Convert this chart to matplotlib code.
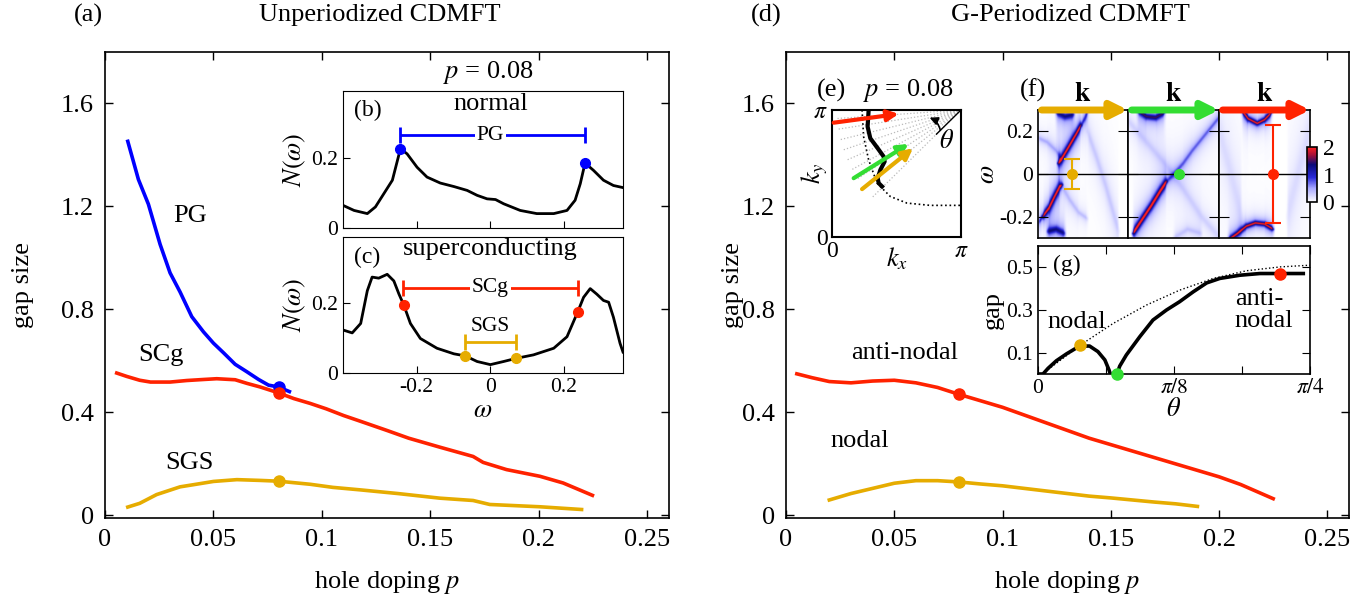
import numpy as np
import matplotlib
matplotlib.use("Agg")
import matplotlib.pyplot as plt
from matplotlib.colors import LinearSegmentedColormap

plt.rcParams['font.family'] = ['Liberation Serif', 'DejaVu Serif']
plt.rcParams['mathtext.fontset'] = 'stix'

BLUE = '#0000ff'
RED = '#ff2200'
GOLD = '#e6ac00'
GREEN = '#33dd33'

# ---- (a) unperiodized gaps vs doping
p_pg = [0.0105, 0.0154, 0.020, 0.0254, 0.030, 0.0346, 0.040, 0.0454, 0.050, 0.0546,
        0.060, 0.0654, 0.0708, 0.0754, 0.080, 0.085]
gap_pg = [1.453, 1.305, 1.209, 1.053, 0.942, 0.868, 0.772, 0.713, 0.669, 0.632,
          0.587, 0.558, 0.528, 0.506, 0.499, 0.481]
p_scg = [0.0054, 0.010, 0.016, 0.021, 0.030, 0.0377, 0.0454, 0.0515, 0.060, 0.0654,
         0.0715, 0.080, 0.087, 0.0946, 0.102, 0.110, 0.118, 0.13, 0.14, 0.1544,
         0.1697, 0.1743, 0.1851, 0.2005, 0.2112, 0.2247]
gap_scg = [0.553, 0.540, 0.525, 0.518, 0.518, 0.524, 0.528, 0.531, 0.527, 0.513,
           0.499, 0.476, 0.454, 0.435, 0.414, 0.388, 0.365, 0.33, 0.30, 0.265,
           0.229, 0.206, 0.178, 0.152, 0.126, 0.078]
p_sgs = [0.0105, 0.016, 0.0238, 0.0346, 0.042, 0.050, 0.0608, 0.0715, 0.080, 0.0946,
         0.105, 0.118, 0.135, 0.1544, 0.1697, 0.1774, 0.2005, 0.2197]
gap_sgs = [0.0325, 0.047, 0.081, 0.111, 0.121, 0.132, 0.139, 0.136, 0.133, 0.121,
           0.109, 0.099, 0.085, 0.067, 0.058, 0.0425, 0.0336, 0.023]

# ---- (d) G-periodized gaps vs doping
p_an = [0.005, 0.012, 0.02, 0.03, 0.04, 0.05, 0.06, 0.07, 0.08, 0.09, 0.1, 0.11,
        0.12, 0.13, 0.14, 0.15, 0.16, 0.17, 0.18, 0.19, 0.2, 0.21, 0.225]
gap_an = [0.55, 0.535, 0.52, 0.515, 0.522, 0.525, 0.515, 0.497, 0.47, 0.445, 0.42,
          0.39, 0.36, 0.33, 0.30, 0.275, 0.25, 0.225, 0.20, 0.175, 0.15, 0.12, 0.065]
p_nod = [0.02, 0.03, 0.04, 0.05, 0.06, 0.07, 0.08, 0.09, 0.1, 0.11, 0.12, 0.13,
         0.14, 0.15, 0.16, 0.17, 0.18, 0.19]
gap_nod = [0.06, 0.085, 0.105, 0.125, 0.135, 0.135, 0.13, 0.122, 0.115, 0.105,
           0.095, 0.085, 0.075, 0.068, 0.06, 0.052, 0.045, 0.035]

p_sel = 0.08
xticks_main = [0, 0.05, 0.1, 0.15, 0.2, 0.25]
xlabels_main = ['0', '0.05', '0.1', '0.15', '0.2', '0.25']
yticks_main = [0, 0.4, 0.8, 1.2, 1.6]
ylabels_main = ['0', '0.4', '0.8', '1.2', '1.6']

# ---- (b) normal DOS
w_n = [-0.399, -0.370, -0.334, -0.312, -0.289, -0.266, -0.244, -0.226, -0.199, -0.172,
       -0.136, -0.099, -0.063, -0.036, -0.009, 0.014, 0.036, 0.081, 0.126, 0.172,
       0.208, 0.230, 0.244, 0.257, 0.280, 0.307, 0.334, 0.360]
dos_n = [0.064, 0.050, 0.041, 0.060, 0.098, 0.136, 0.226, 0.211, 0.173, 0.145,
         0.128, 0.118, 0.107, 0.093, 0.083, 0.081, 0.069, 0.050, 0.041, 0.041,
         0.050, 0.079, 0.126, 0.185, 0.164, 0.136, 0.121, 0.115]
pg_peaks = [-0.244, 0.257]
pg_peak_dos = [0.226, 0.185]

# ---- (c) superconducting DOS
w_s = [-0.399, -0.375, -0.352, -0.334, -0.321, -0.303, -0.280, -0.262, -0.248, -0.235,
       -0.217, -0.190, -0.145, -0.099, -0.068, -0.036, 0.0, 0.036, 0.070, 0.117,
       0.172, 0.208, 0.237, 0.253, 0.271, 0.289, 0.307, 0.321, 0.334, 0.352, 0.360]
dos_s = [0.123, 0.115, 0.142, 0.236, 0.275, 0.272, 0.283, 0.264, 0.226, 0.195,
         0.142, 0.099, 0.071, 0.055, 0.049, 0.033, 0.024, 0.033, 0.042, 0.052,
         0.071, 0.104, 0.175, 0.217, 0.242, 0.226, 0.208, 0.203, 0.160, 0.085, 0.06]
scg_pts = [-0.235, 0.237]
scg_dos = [0.195, 0.175]
sgs_pts = [-0.068, 0.070]
sgs_dos = [0.049, 0.042]

# ---- (e) Brillouin zone quadrant (units of pi)
fs_kx = [0.233, 0.245, 0.284, 0.349, 0.452, 0.581, 0.762, 1.0]
fs_ky = [1.0, 0.79, 0.607, 0.424, 0.319, 0.267, 0.249, 0.249]
gfs_kx = [0.284, 0.276, 0.297, 0.354, 0.40, 0.408, 0.375, 0.354, 0.362, 0.388]
gfs_ky = [1.0, 0.869, 0.777, 0.699, 0.634, 0.594, 0.529, 0.463, 0.424, 0.398]
ray_angles = [4, 9, 14, 19, 24, 29, 34, 39, 45]
ray_len = 0.97
cut_colors = [RED, GREEN, GOLD]
cut_start = [(0.013, 0.90), (0.168, 0.463), (0.233, 0.377)]
cut_end = [(0.517, 0.969), (0.594, 0.733), (0.628, 0.699)]

# ---- (f) spectral function cuts: band positions (k along cut, omega, weight, width)
bands_nodal = [
    ([0.22, 0.26, 0.33, 0.42, 0.48], [0.05, 0.07, 0.12, 0.185, 0.23], 2.0, 0.008),
    ([0.48, 0.52, 0.56], [0.23, 0.26, 0.30], 0.9, 0.010),
    ([0.0, 0.1, 0.2, 0.26], [0.17, 0.15, 0.11, 0.07], 0.45, 0.012),
    ([0.05, 0.12, 0.19, 0.24, 0.27], [-0.20, -0.16, -0.10, -0.06, -0.05], 2.0, 0.008),
    ([0.0, 0.05], [-0.23, -0.20], 0.9, 0.010),
    ([0.27, 0.35, 0.45, 0.55], [-0.06, -0.12, -0.18, -0.21], 0.35, 0.012),
    ([0.2, 0.3, 0.4], [0.29, 0.27, 0.28], 1.2, 0.015),
    ([0.1, 0.2, 0.3], [-0.27, -0.26, -0.28], 1.2, 0.015),
    ([0.55, 0.65, 0.75, 0.85, 0.9], [0.2, 0.08, -0.05, -0.2, -0.27], 0.3, 0.015),
]
bands_node = [
    ([0.05, 0.15, 0.25, 0.35, 0.42], [-0.28, -0.215, -0.15, -0.08, -0.035], 2.2, 0.008),
    ([0.42, 0.5, 0.6, 0.7, 0.85, 1.0], [-0.035, 0.0, 0.05, 0.11, 0.19, 0.27], 0.7, 0.012),
    ([0.1, 0.2, 0.3, 0.4], [0.30, 0.27, 0.265, 0.29], 1.4, 0.012),
    ([0.0, 0.2, 0.4, 0.6, 0.8, 1.0], [0.25, 0.15, 0.05, -0.07, -0.2, -0.3], 0.25, 0.02),
    ([0.5, 0.65, 0.8], [-0.3, -0.26, -0.28], 0.3, 0.015),
]
bands_anti = [
    ([0.25, 0.32, 0.42, 0.5, 0.58], [0.3, 0.26, 0.238, 0.255, 0.29], 1.9, 0.008),
    ([0.1, 0.2, 0.3, 0.4, 0.5, 0.6], [-0.31, -0.28, -0.245, -0.23, -0.235, -0.26], 1.9, 0.008),
    ([0.0, 0.1, 0.25], [0.2, 0.05, -0.2], 0.2, 0.03),
    ([0.75, 0.9, 1.0], [-0.2, 0.05, 0.2], 0.2, 0.03),
]
cut_bands = [bands_nodal, bands_node, bands_anti]
cut_arrow_colors = [GOLD, GREEN, RED]
gap_marks = [(0.378, 0.068, GOLD), (0.56, 0.0, GREEN), (0.59, 0.232, RED)]

# ---- (g) gap along Fermi surface
th1 = [0.0, 0.0145, 0.029, 0.053, 0.082, 0.12, 0.149, 0.173, 0.193, 0.205, 0.209]
g1 = [0.0, 0.0, 0.0265, 0.062, 0.094, 0.131, 0.131, 0.105, 0.066, 0.019, 0.0]
th2 = [0.228, 0.236, 0.255, 0.294, 0.332, 0.371, 0.409, 0.448, 0.487, 0.525, 0.583,
       0.641, 0.699, 0.766]
g2 = [0.0, 0.037, 0.089, 0.175, 0.253, 0.30, 0.339, 0.385, 0.427, 0.448, 0.463,
      0.471, 0.471, 0.471]
th_d = [0.012, 0.12, 0.217, 0.313, 0.409, 0.506, 0.602, 0.699, 0.785]
g_d = [0.0, 0.133, 0.237, 0.323, 0.393, 0.448, 0.484, 0.502, 0.51]
g_dots = [(0.12, 0.135, GOLD), (0.227, 0.0, GREEN), (0.699, 0.468, RED)]

W, H = 1364, 597
fig = plt.figure(figsize=(W / 100, H / 100), dpi=100)


def px_axes(x0, y0, x1, y1):
    return fig.add_axes([x0 / W, 1 - y1 / H, (x1 - x0) / W, (y1 - y0) / H])


def fig_text(x, y, s, **kw):
    fig.text(x / W, 1 - y / H, s, **kw)


def style_main(ax):
    ax.set_xlim(0, 0.26)
    ax.set_ylim(-0.01, 1.8)
    ax.set_xticks(xticks_main)
    ax.set_xticklabels(xlabels_main)
    ax.set_yticks(yticks_main)
    ax.set_yticklabels(ylabels_main)
    ax.tick_params(direction='in', top=True, right=True, length=6, width=1,
                   labelsize=19, pad=8)
    for s in ax.spines.values():
        s.set_linewidth(1.2)
    ax.set_xlabel('hole doping $p$', fontsize=19, labelpad=13)
    ax.set_ylabel('gap size', fontsize=19)


# ================= left main (a)
ax_a = px_axes(105, 52, 669, 518)
style_main(ax_a)
ax_a.yaxis.set_label_coords(-0.125, 0.5)
ax_a.plot(p_pg, gap_pg, color=BLUE, lw=2.6)
ax_a.plot(p_scg, gap_scg, color=RED, lw=2.6)
ax_a.plot(p_sgs, gap_sgs, color=GOLD, lw=2.6)
ax_a.plot([p_sel], [np.interp(p_sel, p_pg, gap_pg)], 'o', color=BLUE, ms=8)
ax_a.plot([p_sel], [np.interp(p_sel, p_scg, gap_scg)], 'o', color=RED, ms=8)
ax_a.plot([p_sel], [np.interp(p_sel, p_sgs, gap_sgs)], 'o', color=GOLD, ms=8)
ax_a.text(0.039, 1.164, 'PG', fontsize=19, ha='center', va='center')
ax_a.text(0.026, 0.624, 'SCg', fontsize=19, ha='center', va='center')
ax_a.text(0.039, 0.203, 'SGS', fontsize=19, ha='center', va='center')

fig_text(88, 15, '(a)', fontsize=19, ha='center', va='center')
fig_text(380, 15, 'Unperiodized CDMFT', fontsize=19, ha='center', va='center')

# ---- (b)
ax_b = px_axes(343, 91, 623, 228)
ax_b.plot(w_n, dos_n, color='black', lw=2)
ax_b.plot(pg_peaks, pg_peak_dos, 'o', color=BLUE, ms=7)
ax_b.errorbar([0.0065], [0.264], xerr=[0.2505], fmt='none', ecolor=BLUE, lw=2,
              capsize=6, capthick=2)
ax_b.text(0.0, 0.264, 'PG', fontsize=15.5, ha='center', va='center',
          bbox=dict(facecolor='white', edgecolor='none', pad=1.5))
ax_b.text(-0.334, 0.335, '(b)', fontsize=17, ha='center', va='center')
ax_b.text(0.0, 0.354, 'normal', fontsize=19, ha='center', va='center')
ax_b.set_xlim(-0.4, 0.36)
ax_b.set_ylim(0, 0.39)
ax_b.set_xticks([-0.2, 0, 0.2])
ax_b.set_xticklabels([])
ax_b.set_yticks([0, 0.2])
ax_b.set_yticklabels(['0', '0.2'])
ax_b.tick_params(direction='in', length=5, labelsize=15.5)
ax_b.set_ylabel(r'$N(\omega)$', fontsize=19, labelpad=2)
fig_text(488, 72, r'$p$ = 0.08', fontsize=19, ha='center', va='center')

# ---- (c)
ax_c = px_axes(343, 237, 623, 373)
ax_c.plot(w_s, dos_s, color='black', lw=2)
ax_c.plot(scg_pts, scg_dos, 'o', color=RED, ms=7)
ax_c.plot(sgs_pts, sgs_dos, 'o', color=GOLD, ms=7)
ax_c.errorbar([0.001], [0.245], xerr=[0.238], fmt='none', ecolor=RED, lw=2,
              capsize=6, capthick=2)
ax_c.text(0.0, 0.245, 'SCg', fontsize=15.5, ha='center', va='center',
          bbox=dict(facecolor='white', edgecolor='none', pad=1.5))
ax_c.errorbar([0.0], [0.090], xerr=[0.070], fmt='none', ecolor=GOLD, lw=2,
              capsize=6, capthick=2)
ax_c.text(0.0, 0.132, 'SGS', fontsize=15.5, ha='center', va='center')
ax_c.text(-0.334, 0.330, '(c)', fontsize=17, ha='center', va='center')
ax_c.text(0.0, 0.355, 'superconducting', fontsize=19, ha='center', va='center')
ax_c.set_xlim(-0.4, 0.36)
ax_c.set_ylim(0, 0.39)
ax_c.set_xticks([-0.2, 0, 0.2])
ax_c.set_xticklabels(['-0.2', '0', '0.2'])
ax_c.set_yticks([0, 0.2])
ax_c.set_yticklabels(['0', '0.2'])
ax_c.tick_params(direction='in', length=5, labelsize=15.5)
ax_c.set_ylabel(r'$N(\omega)$', fontsize=19, labelpad=2)
ax_c.set_xlabel(r'$\omega$', fontsize=19, labelpad=2)

# ================= right main (d)
ax_d = px_axes(786, 52, 1349, 518)
style_main(ax_d)
ax_d.yaxis.set_label_coords(-0.075, 0.5)
ax_d.plot(p_an, gap_an, color=RED, lw=2.6)
ax_d.plot(p_nod, gap_nod, color=GOLD, lw=2.6)
ax_d.plot([p_sel], [np.interp(p_sel, p_an, gap_an)], 'o', color=RED, ms=8)
ax_d.plot([p_sel], [np.interp(p_sel, p_nod, gap_nod)], 'o', color=GOLD, ms=8)
ax_d.text(0.055, 0.63, 'anti-nodal', fontsize=19, ha='center', va='center')
ax_d.text(0.034, 0.29, 'nodal', fontsize=19, ha='center', va='center')

fig_text(766, 15, '(d)', fontsize=19, ha='center', va='center')
fig_text(1070, 15, 'G-Periodized CDMFT', fontsize=19, ha='center', va='center')

# ---- (e)
ax_e = px_axes(832, 110, 961, 237)
pi = np.pi
ax_e.plot(np.array(fs_kx) * pi, np.array(fs_ky) * pi, ':', color='black', lw=1.2)
for a in ray_angles:
    r = np.deg2rad(a)
    ax_e.plot([pi, pi - ray_len * pi * np.cos(r)], [pi, pi - ray_len * pi * np.sin(r)],
              ':', color='#bbbbbb', lw=0.9)
ax_e.plot(np.array(gfs_kx) * pi, np.array(gfs_ky) * pi, color='black', lw=3)
for c, s0, s1 in zip(cut_colors, cut_start, cut_end):
    ax_e.annotate('', xy=(s1[0] * pi, s1[1] * pi), xytext=(s0[0] * pi, s0[1] * pi),
                  arrowprops=dict(arrowstyle='-|>', color=c, lw=3, mutation_scale=16,
                                  shrinkA=0, shrinkB=0))
ax_e.plot([pi, 0.81 * pi], [pi, 0.81 * pi], color='black', lw=1)
ax_e.annotate('', xy=(0.757 * pi, 0.94 * pi), xytext=(0.84 * pi, 0.84 * pi),
              arrowprops=dict(arrowstyle='-|>', color='black', lw=1.2, mutation_scale=12,
                              shrinkA=0, shrinkB=0, connectionstyle='arc3,rad=0.25'))
ax_e.text(0.89 * pi, 0.75 * pi, r'$\theta$', fontsize=19, ha='center', va='center')
ax_e.set_xlim(0, pi)
ax_e.set_ylim(0, pi)
ax_e.set_xticks([0, pi])
ax_e.set_xticklabels(['0', r'$\pi$'])
ax_e.set_yticks([0, pi])
ax_e.set_yticklabels(['0', r'$\pi$'])
ax_e.tick_params(length=0, labelsize=17, pad=3)
for s in ax_e.spines.values():
    s.set_linewidth(1.5)
ax_e.set_xlabel(r'$k_x$', fontsize=19, labelpad=-12)
ax_e.set_ylabel(r'$k_y$', fontsize=19, labelpad=-12)
fig_text(832, 90, '(e)', fontsize=19, ha='center', va='center')
fig_text(908, 90, r'$p$ = 0.08', fontsize=19, ha='center', va='center')

# ---- (f)
cmap = LinearSegmentedColormap.from_list(
    'akw', [(0.0, 'white'), (0.25, '#a8a8ff'), (0.45, '#2828d8'), (0.68, '#0a0a78'),
            (0.85, '#a0103a'), (1.0, '#ff2020')])
kg = np.linspace(0, 1, 240)
wg = np.linspace(-0.3, 0.3, 360)
K, Wg = np.meshgrid(kg, wg)
k_per_px = 1.0 / 90
w_per_px = 0.6 / 128


def spectrum(bands):
    A = np.zeros_like(K)
    for xs, ws, amp, g in bands:
        xs = np.asarray(xs)
        wb = np.interp(kg, xs, ws)
        slope = np.gradient(wb, kg) * k_per_px / w_per_px
        fade = np.clip(np.minimum(K - xs[0], xs[-1] - K) / 0.04 + 0.5, 0, 1)
        d = (Wg - wb[None, :]) / w_per_px / np.sqrt(1 + slope[None, :] ** 2)
        gp = g / w_per_px
        A += fade * 0.75 * amp / (1 + (d / (0.8 * gp)) ** 2)
        A += fade * 0.3 * amp / (1 + (d / (3.0 * gp)) ** 2)
    return A


f_edges = [1038, 1128, 1219, 1310]
im = None
for i in range(3):
    ax_f = px_axes(f_edges[i], 110, f_edges[i + 1], 238)
    im = ax_f.imshow(spectrum(cut_bands[i]), extent=(0, 1, -0.3, 0.3), origin='lower',
                     aspect='auto', cmap=cmap, vmin=0, vmax=2, interpolation='bilinear')
    ax_f.axhline(0, color='black', lw=1)
    ax_f.set_xlim(0, 1)
    ax_f.set_ylim(-0.3, 0.3)
    ax_f.set_xticks([])
    ax_f.set_yticks([-0.2, 0, 0.2])
    ax_f.tick_params(direction='in', left=True, right=True, length=7, labelsize=15.5)
    if i == 0:
        ax_f.set_yticklabels(['-0.2', '0', '0.2'])
        ax_f.set_ylabel(r'$\omega$', fontsize=19, labelpad=0)
    else:
        ax_f.set_yticklabels([])
    for s in ax_f.spines.values():
        s.set_linewidth(1.2)
    ax_f.annotate('', xy=(1.0, 1.0), xytext=(0.04, 1.0), xycoords='axes fraction',
                  arrowprops=dict(arrowstyle='-|>', color=cut_arrow_colors[i], lw=5,
                                  mutation_scale=24, shrinkA=0, shrinkB=0),
                  annotation_clip=False)
    ax_f.text(0.5, 1.12, r'$\mathbf{k}$', transform=ax_f.transAxes, fontsize=20,
              ha='center', va='center')
    xm, em, cm = gap_marks[i]
    if em > 0:
        ax_f.errorbar([xm], [0], yerr=[em], fmt='o', color=cm, ms=7, lw=1.5,
                      capsize=6, capthick=1.5)
    else:
        ax_f.plot([xm], [0], 'o', color=cm, ms=7)
fig_text(1033, 90, '(f)', fontsize=19, ha='center', va='center')

cax = px_axes(1307, 147, 1317, 202)
cb = fig.colorbar(im, cax=cax, ticks=[0, 1, 2])
cb.ax.tick_params(labelsize=17, length=0, pad=4)
cb.outline.set_linewidth(1.2)

# ---- (g)
ax_g = px_axes(1038, 246, 1310, 374)
ax_g.plot(th_d, g_d, ':', color='black', lw=1)
ax_g.plot(th1, g1, color='black', lw=2.6)
ax_g.plot(th2, g2, color='black', lw=2.6)
for t, g, c in g_dots:
    ax_g.plot([t], [g], 'o', color=c, ms=8, clip_on=False, zorder=5)
ax_g.set_xlim(0, np.pi / 4)
ax_g.set_ylim(0, 0.6)
ax_g.set_xticks([0, np.pi / 16, np.pi / 8, 3 * np.pi / 16, np.pi / 4])
ax_g.set_xticklabels(['0', '', r'$\pi/8$', '', r'$\pi/4$'])
ax_g.set_yticks([0.1, 0.3, 0.5])
ax_g.set_yticklabels(['0.1', '0.3', '0.5'])
ax_g.tick_params(direction='in', top=True, right=True, length=6, labelsize=15.5)
for s in ax_g.spines.values():
    s.set_linewidth(1.2)
ax_g.set_xlabel(r'$\theta$', fontsize=19, labelpad=0)
ax_g.set_ylabel('gap', fontsize=19, labelpad=2)
ax_g.text(0.082, 0.51, '(g)', fontsize=17, ha='center', va='center')
ax_g.text(0.111, 0.245, 'nodal', fontsize=19, ha='center', va='center')
ax_g.text(0.568, 0.30, 'anti-\nnodal', fontsize=19, ha='left', va='center',
          linespacing=0.95)

plt.savefig('out.png', dpi=100)
